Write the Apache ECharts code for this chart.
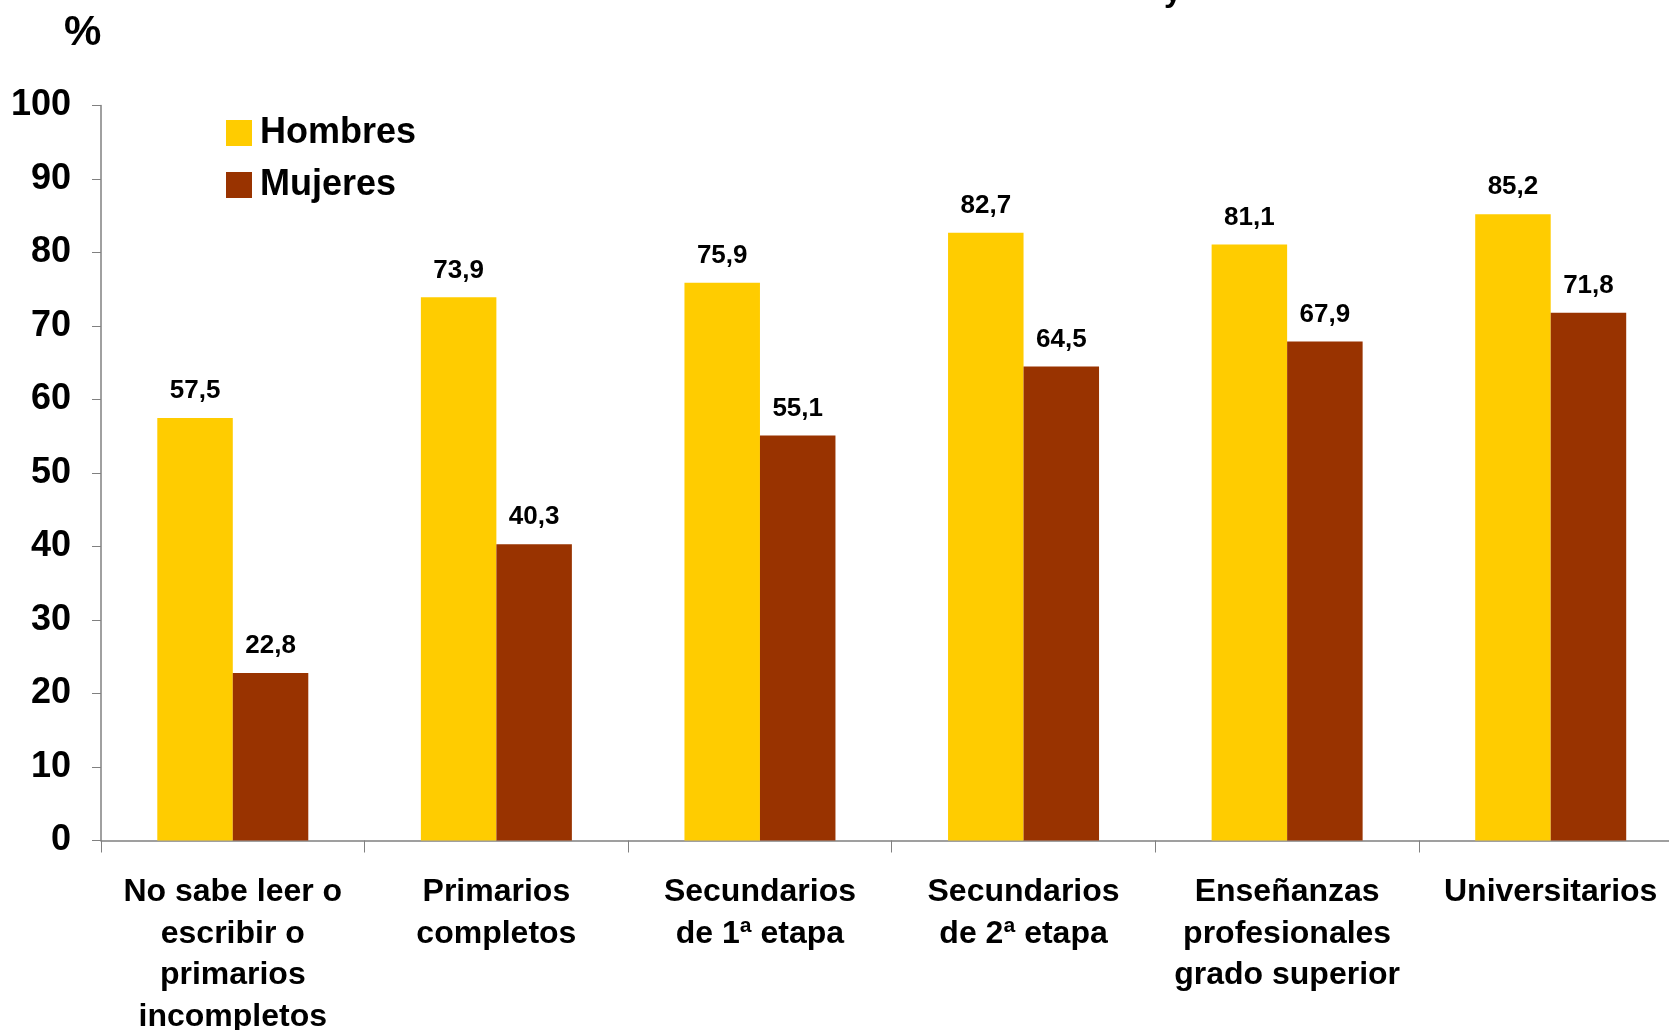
<!DOCTYPE html>
<html>
<head>
<meta charset="utf-8">
<script src="https://cdn.jsdelivr.net/npm/echarts@6/dist/echarts.min.js"></script>
<style>
  html, body { margin: 0; padding: 0; background: #ffffff; overflow: hidden; }
  #chart { width: 1669px; height: 1030px; }
</style>
</head>
<body>
<div id="chart"></div>
<script>
const categories = [
  "No sabe leer o\nescribir o\nprimarios\nincompletos",
  "Primarios\ncompletos",
  "Secundarios\nde 1ª etapa",
  "Secundarios\nde 2ª etapa",
  "Enseñanzas\nprofesionales\ngrado superior",
  "Universitarios"
];
const hombres = [57.5, 73.9, 75.9, 82.7, 81.1, 85.2];
const mujeres = [22.8, 40.3, 55.1, 64.5, 67.9, 71.8];
const yTicks = [0, 10, 20, 30, 40, 50, 60, 70, 80, 90, 100];

const FONT = '"Liberation Sans", Arial, sans-serif';
const fmt = v => String(v.value).replace('.', ',');

const chart = echarts.init(document.getElementById('chart'), null, { renderer: 'canvas' });
chart.setOption({
  backgroundColor: '#ffffff',
  animation: false,
  textStyle: { fontFamily: FONT },
  grid: { left: 101, width: 1581.5, top: 105.5, bottom: 189.5, containLabel: false, outerBoundsMode: 'none' },
  legend: {
    left: 226, top: 115, orient: 'vertical', padding: 0,
    itemWidth: 26, itemHeight: 26, itemGap: 16,
    icon: 'rect',
    textStyle: { fontFamily: FONT, fontSize: 36, fontWeight: 'bold', color: '#000', padding: [0, 0, 0, 3] },
    data: ['Hombres', 'Mujeres']
  },
  graphic: [
    { type: 'text', left: 64, top: 12, style: { text: '%', font: 'bold 42px "Liberation Sans", Arial', fill: '#000' } },
    { type: 'text', x: 1164, y: 8, style: { text: 'y', font: 'bold 32px "Liberation Sans", Arial', fill: '#000', textVerticalAlign: 'bottom' } }
  ],
  xAxis: {
    type: 'category',
    data: categories,
    axisLine: { lineStyle: { color: '#808080', width: 1.5 } },
    axisTick: { show: true, length: 12, lineStyle: { color: '#808080', width: 1 } },
    axisLabel: { interval: 0, margin: 31, fontFamily: FONT, fontSize: 32, fontWeight: 'bold', color: '#000', lineHeight: 41.5 }
  },
  yAxis: {
    type: 'value', min: yTicks[0], max: yTicks[yTicks.length - 1], interval: 10,
    splitLine: { show: false },
    axisLine: { show: true, lineStyle: { color: '#808080', width: 1.5 } },
    axisTick: { show: true, length: 9, lineStyle: { color: '#808080', width: 1 } },
    axisLabel: { margin: 30, fontFamily: FONT, fontSize: 36, fontWeight: 'bold', color: '#000' }
  },
  series: [
    {
      name: 'Hombres', type: 'bar', data: hombres, barWidth: 75.5, barGap: '0%',
      itemStyle: { color: '#FFCC00' },
      label: { show: true, position: 'top', distance: 14, formatter: fmt, fontFamily: FONT, fontSize: 26, fontWeight: 'bold', color: '#000' }
    },
    {
      name: 'Mujeres', type: 'bar', data: mujeres, barWidth: 75.5, barGap: '0%',
      itemStyle: { color: '#993300' },
      label: { show: true, position: 'top', distance: 14, formatter: fmt, fontFamily: FONT, fontSize: 26, fontWeight: 'bold', color: '#000' }
    }
  ]
});
</script>
</body>
</html>
